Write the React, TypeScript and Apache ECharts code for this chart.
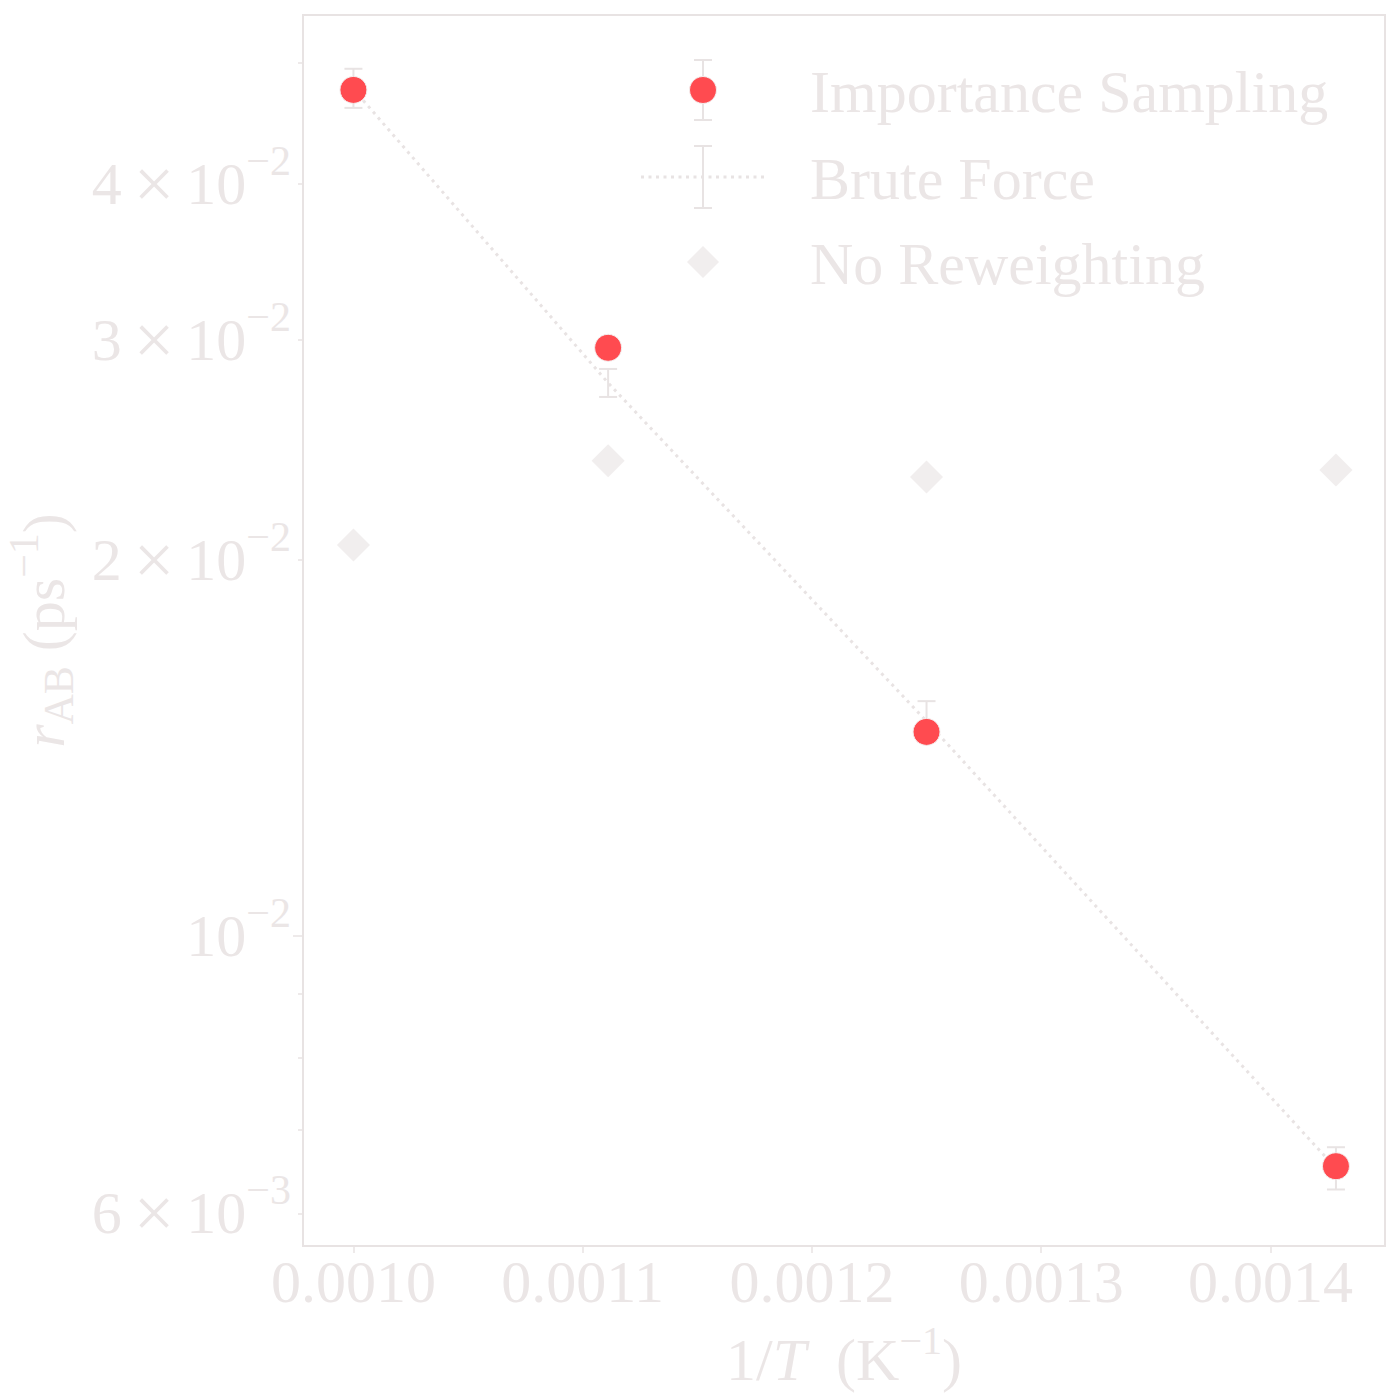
import * as echarts from "echarts";
import { useEffect, useRef } from "react";

// 1/T values (K^-1) for T = 1000, 900, 800, 700 K
const invT = [0.001, 0.0011111, 0.00125, 0.0014286];
const importance = [0.04756, 0.02957, 0.01457, 0.006545];
const bruteForce = [0.04763, 0.02772, 0.01486, 0.00652];
const bruteLow = [0.04601, 0.02701, 0.01433, 0.00627];
const bruteHigh = [0.04945, 0.02844, 0.01542, 0.006778];
const noReweight = [0.02056, 0.02401, 0.02331, 0.02361];

const xTicks = [0.001, 0.0011, 0.0012, 0.0013, 0.0014];
const yLabelValues = [0.006, 0.01, 0.02, 0.03, 0.04];
const yLabelMant = ["6", "", "2", "3", "4"];
const yLabelExp = ["3", "2", "2", "2", "2"];
const yMinorTicks = [0.006, 0.007, 0.008, 0.009, 0.02, 0.03, 0.04, 0.05];
const yMajorTicks = [0.01];

const legendNames = ["Importance Sampling", "Brute Force", "No Reweighting"];

const FONT = "'Liberation Serif', 'DejaVu Serif', serif";
const TXT = "#ebe6e6";
const AXIS = "#e8e3e3";
const RED = "#ff4b50";
const DIAMOND = "#f1eeee";

const Chart: React.FC = () => {
    const chartRef = useRef<HTMLDivElement>(null);

    useEffect(() => {
        document.body.style.margin = "0";
        const chartInstance = echarts.init(chartRef.current!, null, { renderer: "svg" });

        const yFormatter = (v: number) => {
            let best = 0;
            for (let i = 1; i < yLabelValues.length; i++) {
                if (Math.abs(Math.log10(yLabelValues[i]) - Math.log10(v)) <
                    Math.abs(Math.log10(yLabelValues[best]) - Math.log10(v))) best = i;
            }
            const m = yLabelMant[best];
            const pre = m ? `{b|${m}}{x|×}` : "";
            return `${pre}{b|10}{s|−${yLabelExp[best]}}`;
        };

        const legendX = 703;
        const legendRows = [90, 177, 262];
        const cap = (x: number, y: number) => ({
            type: "line",
            shape: { x1: x - 9, y1: y, x2: x + 9, y2: y },
            style: { stroke: AXIS, lineWidth: 2 },
        });

        const option = {
            animation: false,
            backgroundColor: "#ffffff",
            grid: {
                left: 303,
                right: 15,
                top: 15,
                bottom: 154,
                show: true,
                borderColor: AXIS,
                borderWidth: 2,
                containLabel: false,
                outerBoundsMode: "none",
            },
            xAxis: {
                type: "value",
                min: 0.000978,
                max: 0.00145,
                axisLine: { show: true, lineStyle: { color: AXIS, width: 2 } },
                axisTick: {
                    show: true,
                    length: 7,
                    customValues: xTicks,
                    lineStyle: { color: AXIS, width: 1.5 },
                },
                axisLabel: {
                    customValues: xTicks,
                    formatter: (v: number) => v.toFixed(4),
                    color: TXT,
                    fontFamily: FONT,
                    fontSize: 60,
                    margin: 6,
                },
                splitLine: { show: false },
                name: "{r|1/}{i|T}{r|  (K}{s|−1}{r|)}",
                nameLocation: "middle",
                nameGap: 74,
                nameTextStyle: {
                    rich: {
                        r: { fontFamily: FONT, fontSize: 60, color: TXT },
                        i: { fontFamily: FONT, fontSize: 60, color: TXT, fontStyle: "italic" },
                        s: { fontFamily: FONT, fontSize: 40, color: TXT, padding: [0, 0, 40, 0] },
                    },
                },
            },
            yAxis: [
                {
                    type: "log",
                    logBase: 10,
                    min: 0.00565,
                    max: 0.0546,
                    position: "left",
                    axisLine: { show: true, lineStyle: { color: AXIS, width: 2 } },
                    axisTick: {
                        show: true,
                        length: 5,
                        customValues: yMinorTicks,
                        lineStyle: { color: AXIS, width: 1.5 },
                    },
                    axisLabel: {
                        customValues: yLabelValues,
                        formatter: yFormatter,
                        margin: 12,
                        rich: {
                            b: { fontFamily: FONT, fontSize: 60, color: TXT },
                            x: { fontFamily: FONT, fontSize: 72, color: TXT, padding: [0, 12, 0, 12] },
                            s: { fontFamily: FONT, fontSize: 42, color: TXT, padding: [0, 0, 46, 0] },
                        },
                    },
                    splitLine: { show: false },
                    name: "{i|r}{sub|AB}{r| (ps}{s|−1}{r|)}",
                    nameLocation: "middle",
                    nameGap: 218,
                    nameRotate: 90,
                    nameTextStyle: {
                        rich: {
                            r: { fontFamily: FONT, fontSize: 60, color: TXT },
                            i: { fontFamily: FONT, fontSize: 60, color: TXT, fontStyle: "italic" },
                            sub: { fontFamily: FONT, fontSize: 42, color: TXT, padding: [30, 0, 0, 0] },
                            s: { fontFamily: FONT, fontSize: 42, color: TXT, padding: [0, 0, 40, 0] },
                        },
                    },
                },
                {
                    type: "log",
                    logBase: 10,
                    min: 0.00565,
                    max: 0.0546,
                    position: "left",
                    axisLine: { show: false },
                    axisTick: {
                        show: true,
                        length: 10,
                        customValues: yMajorTicks,
                        lineStyle: { color: AXIS, width: 1.5 },
                    },
                    axisLabel: { show: false },
                    splitLine: { show: false },
                },
            ],
            series: [
                {
                    name: legendNames[1],
                    type: "line",
                    data: invT.map((x, i) => [x, bruteForce[i]]),
                    symbol: "none",
                    lineStyle: { color: AXIS, width: 3, type: [3, 4.5] },
                    z: 1,
                },
                {
                    name: legendNames[1] + " error",
                    type: "custom",
                    data: invT.map((x, i) => [x, bruteLow[i], bruteHigh[i]]),
                    encode: { x: 0, y: [1, 2] },
                    renderItem: (_params: any, api: any) => {
                        const x = api.value(0);
                        const top = api.coord([x, api.value(2)]);
                        const bot = api.coord([x, api.value(1)]);
                        const st = { stroke: AXIS, lineWidth: 2 };
                        return {
                            type: "group",
                            children: [
                                { type: "line", shape: { x1: top[0], y1: top[1], x2: bot[0], y2: bot[1] }, style: st },
                                { type: "line", shape: { x1: top[0] - 9, y1: top[1], x2: top[0] + 9, y2: top[1] }, style: st },
                                { type: "line", shape: { x1: bot[0] - 9, y1: bot[1], x2: bot[0] + 9, y2: bot[1] }, style: st },
                            ],
                        };
                    },
                    z: 2,
                },
                {
                    name: legendNames[2],
                    type: "scatter",
                    data: invT.map((x, i) => [x, noReweight[i]]),
                    symbol: "diamond",
                    symbolSize: 33,
                    itemStyle: { color: DIAMOND, opacity: 1 },
                    z: 2,
                },
                {
                    name: legendNames[0],
                    type: "scatter",
                    data: invT.map((x, i) => [x, importance[i]]),
                    symbol: "circle",
                    symbolSize: 27,
                    itemStyle: { color: RED, borderColor: "#f4eded", borderWidth: 1, opacity: 1 },
                    z: 3,
                },
            ],
            graphic: [
                // Importance Sampling legend marker
                {
                    type: "line",
                    shape: { x1: legendX, y1: legendRows[0] - 30, x2: legendX, y2: legendRows[0] + 30 },
                    style: { stroke: AXIS, lineWidth: 2 },
                },
                cap(legendX, legendRows[0] - 30),
                cap(legendX, legendRows[0] + 30),
                {
                    type: "circle",
                    shape: { cx: legendX, cy: legendRows[0], r: 13.5 },
                    style: { fill: RED, stroke: "#f4eded", lineWidth: 1 },
                },
                // Brute Force legend marker
                {
                    type: "line",
                    shape: { x1: legendX - 62, y1: legendRows[1], x2: legendX + 62, y2: legendRows[1] },
                    style: { stroke: AXIS, lineWidth: 3, lineDash: [3, 4.5] },
                },
                {
                    type: "line",
                    shape: { x1: legendX, y1: legendRows[1] - 31, x2: legendX, y2: legendRows[1] + 31 },
                    style: { stroke: AXIS, lineWidth: 2 },
                },
                cap(legendX, legendRows[1] - 31),
                cap(legendX, legendRows[1] + 31),
                // No Reweighting legend marker
                {
                    type: "polygon",
                    shape: {
                        points: [
                            [legendX, legendRows[2] - 16],
                            [legendX + 16, legendRows[2]],
                            [legendX, legendRows[2] + 16],
                            [legendX - 16, legendRows[2]],
                        ],
                    },
                    style: { fill: DIAMOND },
                },
                ...legendNames.map((name, i) => ({
                    type: "text",
                    x: 810,
                    y: legendRows[i] + 2,
                    style: {
                        text: name,
                        fill: TXT,
                        font: `60px ${FONT}`,
                        verticalAlign: "middle",
                        align: "left",
                    },
                })),
            ],
        };

        chartInstance.setOption(option as any);

        return () => {
            chartInstance.dispose();
        };
    }, []);

    return (
        <div
            ref={chartRef}
            style={{
                width: "1400px",
                height: "1400px",
            }}
        />
    );
};

export default function App() {
    return <Chart />;
}
